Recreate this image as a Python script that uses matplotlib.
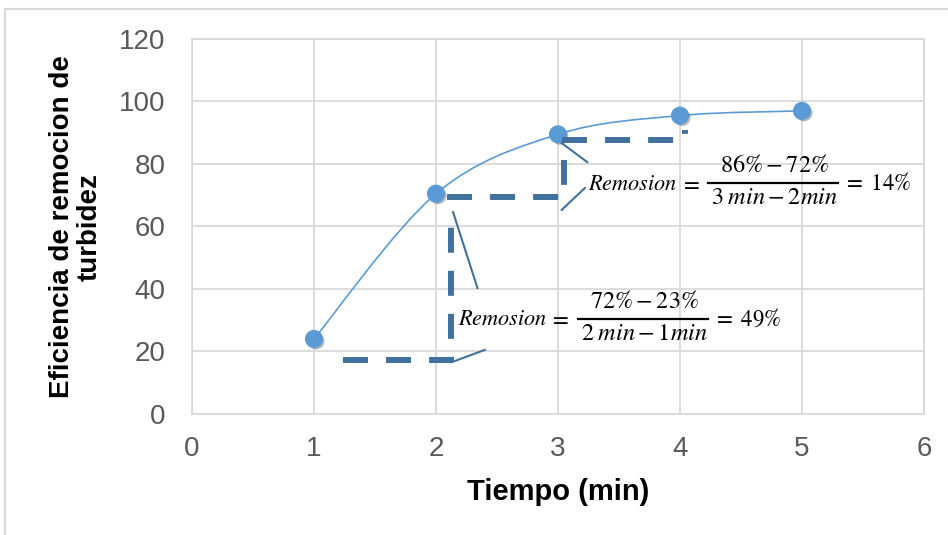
import matplotlib
matplotlib.use("Agg")
import matplotlib.pyplot as plt
import matplotlib.patheffects as pe
from matplotlib.path import Path
from matplotlib.patches import PathPatch, Rectangle
from matplotlib.lines import Line2D
from matplotlib.transforms import IdentityTransform

plt.rcParams['font.family'] = ['Liberation Sans', 'DejaVu Sans']
plt.rcParams['mathtext.fontset'] = 'stix'
plt.rcParams['lines.scale_dashes'] = False

# data
tiempo = [1, 2, 3, 4, 5]
eficiencia = [24, 70.5, 89.5, 95.5, 97]
x_ticks = [0, 1, 2, 3, 4, 5, 6]
y_ticks = [0, 20, 40, 60, 80, 100, 120]

# dashed helper shapes drawn over the chart (x, y in data units)
dashed_shapes = [
    ([1.24, 2.12, 2.12], [17.3, 17.3, 65.0]),
    ([2.09, 3.05, 3.05], [69.4, 69.4, 81.3]),
    ([3.03, 4.04, 4.04], [87.7, 87.7, 91.0]),
]
# thin callout leaders
leaders = [
    ([2.14, 2.34], [64.6, 40.3]),
    ([2.13, 2.40], [16.6, 20.5]),
    ([3.03, 3.24], [86.7, 80.6]),
    ([3.22, 3.03], [72.3, 65.3]),
]
# formula anchors (left edge, fraction bar height) and pieces
formula_x = [2.18, 3.25]
formula_y = [30.4, 73.9]
numerators = [r'$72\% - 23\%$', r'$86\% - 72\%$']
denominators = [r'$2\;\mathit{min} - 1\mathit{min}$',
                r'$3\;\mathit{min} - 2\mathit{min}$']
results = [r'$=\ 49\%$', r'$=\ 14\%$']

line_blue = '#5b9bd5'
shape_blue = '#41719c'
grid_gray = '#d9d9d9'
text_gray = '#595959'

fig = plt.figure(figsize=(9.48, 5.35), dpi=100)
ax = fig.add_axes([0.2025, 0.2262, 0.7722, 0.7009])
ax.set_xlim(0, 6)
ax.set_ylim(0, 120)

# smoothed line (Excel style bezier through the points)
n = len(tiempo)
verts = [(tiempo[0], eficiencia[0])]
codes = [Path.MOVETO]
for i in range(n - 1):
    p0 = (tiempo[max(i - 1, 0)], eficiencia[max(i - 1, 0)])
    p1 = (tiempo[i], eficiencia[i])
    p2 = (tiempo[i + 1], eficiencia[i + 1])
    p3 = (tiempo[min(i + 2, n - 1)], eficiencia[min(i + 2, n - 1)])
    c1 = (p1[0] + (p2[0] - p0[0]) / 6, p1[1] + (p2[1] - p0[1]) / 6)
    c2 = (p2[0] - (p3[0] - p1[0]) / 6, p2[1] - (p3[1] - p1[1]) / 6)
    verts += [c1, c2, p2]
    codes += [Path.CURVE4] * 3
ax.add_patch(PathPatch(Path(verts, codes), facecolor='none',
                       edgecolor=line_blue, lw=1.2, zorder=3))

ax.plot(tiempo, eficiencia, 'o', color=line_blue, markersize=12, zorder=4,
        path_effects=[pe.SimplePatchShadow(offset=(1.5, -1.5), alpha=0.35),
                      pe.Normal()])

for xs, ys in dashed_shapes:
    ax.plot(xs, ys, color=shape_blue, lw=4.3, dashes=(18, 13),
            solid_capstyle='butt', dash_capstyle='butt', zorder=5)
for xs, ys in leaders:
    ax.plot(xs, ys, color=shape_blue, lw=1.5, zorder=5)

# formulas built piece by piece (offsets in pixels -> points)
px = 72 / 100
for fx, fy, num, den, res in zip(formula_x, formula_y, numerators,
                                 denominators, results):
    kw = dict(xy=(fx, fy), xycoords='data', textcoords='offset points',
              color='black', zorder=6, annotation_clip=False)
    ax.annotate(r'$\mathit{Remosion}$', xytext=(0, -1 * px), ha='left',
                va='center', fontsize=16, **kw)
    ax.annotate('$=$', xytext=(101 * px, 0), ha='center', va='center',
                fontsize=16.5, **kw)
    ax.annotate(num, xytext=(186 * px, 17 * px), ha='center', va='center',
                fontsize=17.5, **kw)
    ax.annotate(den, xytext=(186 * px, -15 * px), ha='center', va='center',
                fontsize=17.5, **kw)
    ax.annotate(res, xytext=(255 * px, 0), ha='left', va='center',
                fontsize=16.5, **kw)
    # fraction bar, in pixels relative to the anchor
    bx, by = ax.transData.transform((fx, fy))
    fig.add_artist(Line2D([bx + 120, bx + 250], [by, by], lw=1.6,
                          color='black', transform=IdentityTransform(),
                          zorder=6))

ax.set_xticks(x_ticks)
ax.set_yticks(y_ticks)
ax.grid(True, color=grid_gray, lw=1.3, zorder=0)
ax.set_axisbelow(True)
for s in ax.spines.values():
    s.set_color(grid_gray)
    s.set_linewidth(1.3)
ax.tick_params(length=0, labelsize=20, labelcolor=text_gray)
ax.tick_params(axis='x', pad=16)
ax.tick_params(axis='y', pad=19)

fig.text(558 / 948, 0.0804, 'Tiempo (min)', fontsize=21, fontweight='bold',
         ha='center', va='center')
fig.text(76 / 948, 0.5757, 'Eficiencia de remocion de\nturbidez', fontsize=20,
         fontweight='bold', ha='center', va='center', rotation=90,
         multialignment='center', linespacing=1.1)

fig.patches.append(Rectangle((5 / 948, -0.1), 1.2, 1.1 - 9 / 535,
                             transform=fig.transFigure, fill=False,
                             edgecolor=grid_gray, lw=1.5))

fig.savefig('out.png', dpi=100)
